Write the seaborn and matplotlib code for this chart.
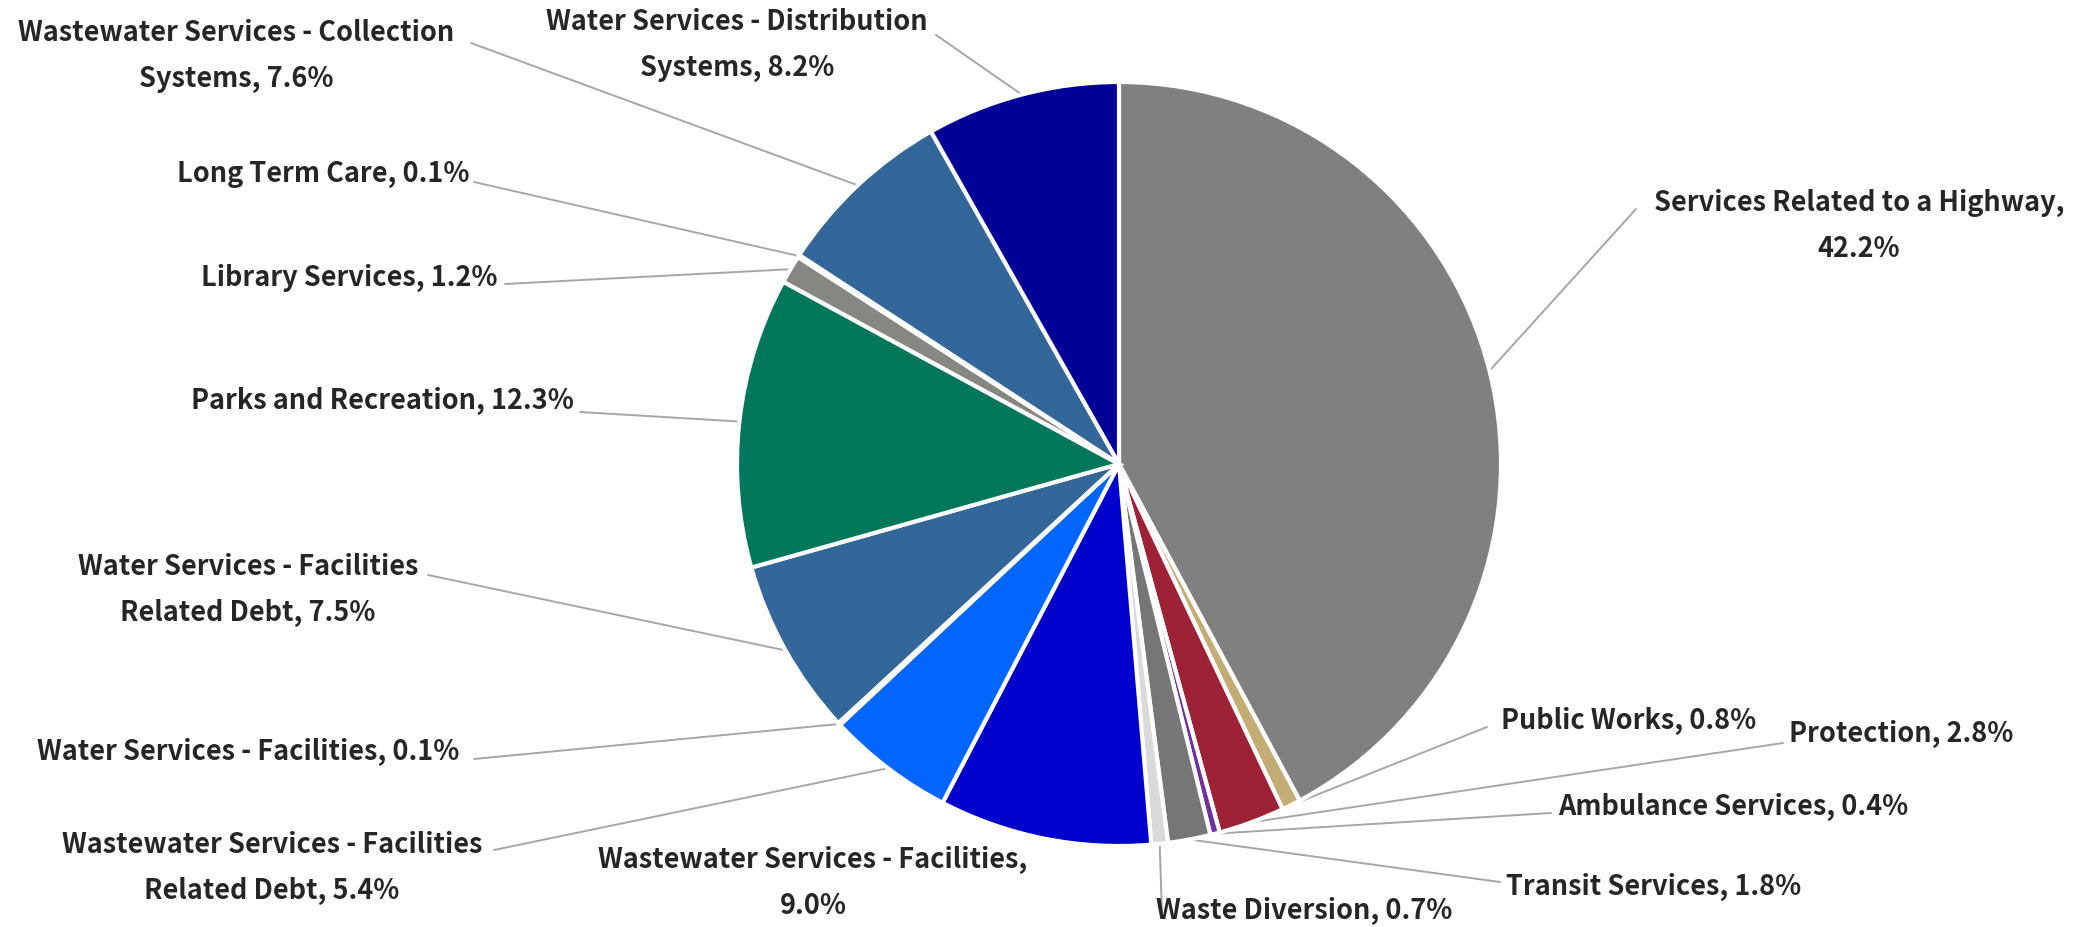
import numpy as np
import matplotlib
matplotlib.use("Agg")
import matplotlib.pyplot as plt
import seaborn as sns

categories = [
    "Services Related to a Highway",
    "Public Works",
    "Protection",
    "Ambulance Services",
    "Transit Services",
    "Waste Diversion",
    "Wastewater Services - Facilities",
    "Wastewater Services - Facilities Related Debt",
    "Water Services - Facilities",
    "Water Services - Facilities Related Debt",
    "Parks and Recreation",
    "Library Services",
    "Long Term Care",
    "Wastewater Services - Collection Systems",
    "Water Services - Distribution Systems",
]
shares = [42.2, 0.8, 2.8, 0.4, 1.8, 0.7, 9.0, 5.4, 0.1, 7.5, 12.3, 1.2, 0.1, 7.6, 8.2]
label_texts = [
    "Services Related to a Highway,\n42.2%",
    "Public Works, 0.8%",
    "Protection, 2.8%",
    "Ambulance Services, 0.4%",
    "Transit Services, 1.8%",
    "Waste Diversion, 0.7%",
    "Wastewater Services - Facilities,\n9.0%",
    "Wastewater Services - Facilities\nRelated Debt, 5.4%",
    "Water Services - Facilities, 0.1%",
    "Water Services - Facilities\nRelated Debt, 7.5%",
    "Parks and Recreation, 12.3%",
    "Library Services, 1.2%",
    "Long Term Care, 0.1%",
    "Wastewater Services - Collection\nSystems, 7.6%",
    "Water Services - Distribution\nSystems, 8.2%",
]
colors = ["#808080", "#C4AD74", "#9E2236", "#7030A0", "#767676", "#D9D9D9",
          "#0000CC", "#0066FF", "#A6A6A6", "#336699", "#00775A", "#878782",
          "#A6A6A6", "#336699", "#000099"]

# layout (image pixel coords, y down): text center, line attach point at label
text_pos = [(1859, 226), (1629, 721), (1901, 734), (1733, 807), (1654, 887),
            (1304, 911), (813, 883), (272, 868), (248, 752), (248, 590),
            (382, 401), (349, 278), (323, 174), (236, 56), (737, 45)]
attach = [(1636, 210), (1487, 728), (1783, 744), (1551, 814), (1500, 883),
          (1162, 916), None, (494, 851), (474, 760), (428, 576),
          (580, 413), (505, 285), (474, 183), (471, 44), (936, 36)]

W, H = 2082, 928
sns.set_theme(style="white")
plt.rcParams["font.family"] = ["Noto Sans CJK JP", "DejaVu Sans"]

fig = plt.figure(figsize=(W / 100, H / 100), dpi=100)
ax = fig.add_axes([0, 0, 1, 1])
cx, cy, r = 1119, H - 465, 382
wedges, _ = ax.pie(shares, colors=colors, startangle=90, counterclock=False,
                   radius=r, center=(cx, cy),
                   wedgeprops=dict(edgecolor="white", linewidth=3))
ax.set_xlim(0, W)
ax.set_ylim(0, H)
ax.set_aspect("equal")
ax.axis("off")

for w, txt, tp, ap in zip(wedges, label_texts, text_pos, attach):
    ang = np.deg2rad((w.theta1 + w.theta2) / 2)
    px, py = cx + r * np.cos(ang), cy + r * np.sin(ang)
    if ap is not None:
        ax.plot([ap[0], px], [H - ap[1], py], color="#A6A6A6", lw=1.4, zorder=0)
    ax.text(tp[0], H - tp[1], txt, ha="center", va="center", fontsize=19.5,
            fontweight="bold", color="#262626", linespacing=1.8,
            multialignment="center")

fig.savefig("out.png", dpi=100, facecolor="white")
